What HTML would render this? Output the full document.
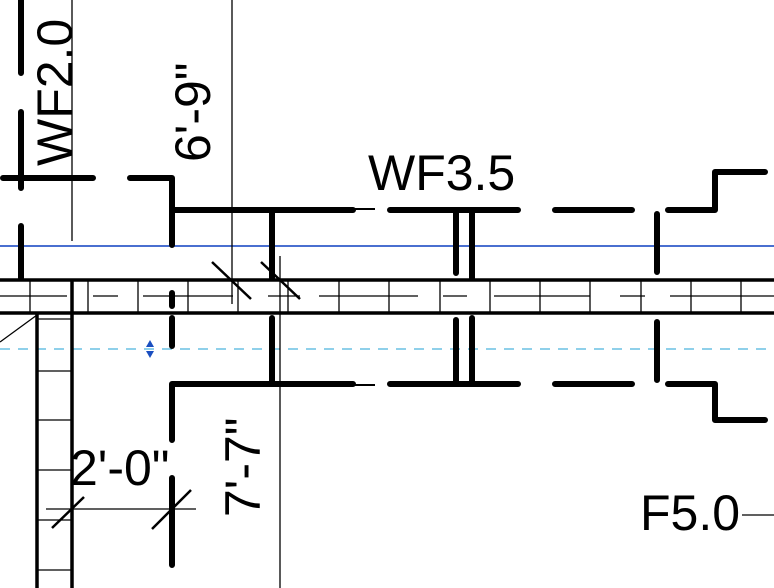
<!DOCTYPE html>
<html><head><style>html,body{margin:0;padding:0;background:#fff}svg{display:block}</style></head>
<body>
<svg width="774" height="588" viewBox="0 0 774 588" xmlns="http://www.w3.org/2000/svg" font-family="Liberation Sans, sans-serif">
<rect width="774" height="588" fill="#fff"/>
<line x1="0" y1="246" x2="774" y2="246" stroke="#4a6fd0" stroke-width="2"/>
<line x1="0" y1="349" x2="774" y2="349" stroke="#8fd0ea" stroke-width="2" stroke-dasharray="10,8"/>
<polygon points="150,340 146,347 154,347" fill="#1a4fc0"/>
<polygon points="150,358 146,351 154,351" fill="#1a4fc0"/>
<g stroke="#000" stroke-width="1.3" fill="none">
<line x1="72" y1="0" x2="72" y2="241"/>
<line x1="232" y1="0" x2="232" y2="304"/>
<line x1="280" y1="256" x2="280" y2="588"/>
<line x1="212" y1="262" x2="251" y2="299" stroke-width="2.5"/>
<line x1="261" y1="262" x2="300" y2="299" stroke-width="2.5"/>
<line x1="46" y1="509" x2="196" y2="509"/>
<line x1="52" y1="528" x2="84" y2="497" stroke-width="2.5"/>
<line x1="152" y1="529" x2="191" y2="490" stroke-width="2.5"/>
<line x1="742" y1="515" x2="774" y2="515"/>
<line x1="0" y1="342" x2="37" y2="315"/>
<line x1="37" y1="319" x2="72" y2="319"/>
<line x1="37" y1="371" x2="72" y2="371"/>
<line x1="37" y1="420" x2="72" y2="420"/>
<line x1="37" y1="470" x2="72" y2="470"/>
<line x1="37" y1="520" x2="72" y2="520"/>
<line x1="37" y1="570" x2="72" y2="570"/>
<path d="M30 280V313M88 280V313M138 280V313M188 280V313M238 280V313M288 280V313M339 280V313M389 280V313M440 280V313M490 280V313M540 280V313M590 280V313M641 280V313M691 280V313M741 280V313"/>
<path d="M0 296H67M93 296H118M143 296H233M268 296H300M319 296H418M443 296H467M494 296H590M620 296H645M670 296H774"/>
</g>
<g stroke="#000" stroke-width="3.5">
<line x1="0" y1="280" x2="774" y2="280"/>
<line x1="0" y1="313" x2="774" y2="313"/>
<line x1="72" y1="280" x2="72" y2="588"/>
<line x1="37" y1="313" x2="37" y2="588"/>
</g>
<g stroke="#000" stroke-width="6" fill="none" stroke-linecap="round" stroke-linejoin="round">
<path d="M21 0V73M21 112V188M21 226V278"/>
<path d="M3 178H93M130 178H172V245"/>
<path d="M172 210H353M390 210H518M555 210H632M668 210H715V172H765"/>
<path d="M172 440V384H353M390 384H518M555 384H632M668 384H715V420H765"/>
<path d="M172 293V306M172 318V346M172 478V565"/>
<path d="M272 210V278M272 318V384"/>
<path d="M456 213V273M456 320V381M472 210V278M472 318V384"/>
<path d="M657 214V272M657 322V380"/>
</g>
<line x1="353" y1="209" x2="375" y2="209" stroke="#000" stroke-width="2"/>
<line x1="353" y1="385" x2="375" y2="385" stroke="#000" stroke-width="2"/>
<g fill="#000" font-size="50">
<text x="368" y="190">WF3.5</text>
<text x="640" y="530">F5.0</text>
<text x="70" y="485">2'-0"</text>
<text transform="translate(72,166) rotate(-90)">WF2.0</text>
<text transform="translate(210,162) rotate(-90)" font-size="50">6'-9"</text>
<text transform="translate(260,517) rotate(-90)" font-size="50">7'-7"</text>
</g>
</svg>
</body></html>
